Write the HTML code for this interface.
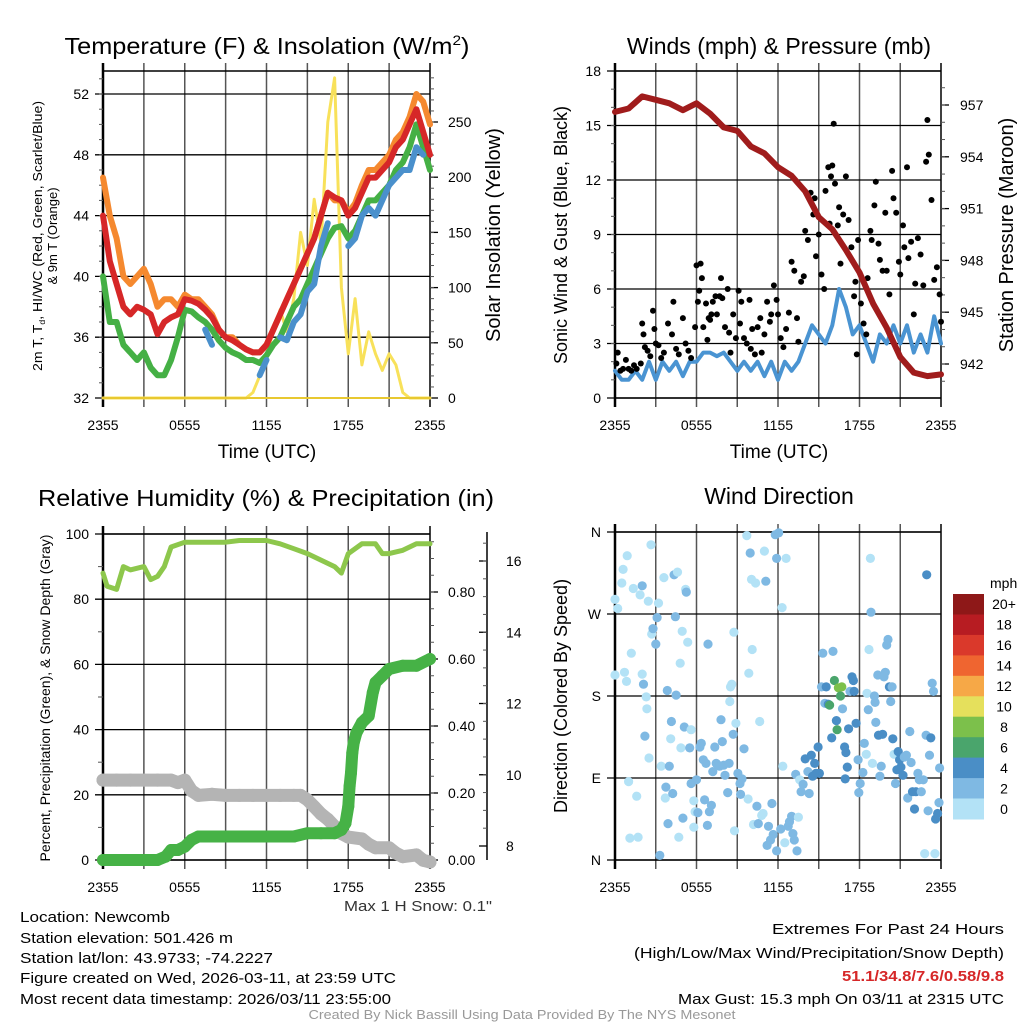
<!DOCTYPE html>
<html><head><meta charset="utf-8"><style>
html,body{margin:0;padding:0;background:#fff;}
svg{display:block;font-family:"Liberation Sans",sans-serif;}
</style></head><body>
<svg id="fig" width="1024" height="1024" viewBox="0 0 1024 1024" xmlns="http://www.w3.org/2000/svg">
<rect x="0" y="0" width="1024" height="1024" fill="#fff"/>
<text x="267" y="54" font-size="23" text-anchor="middle" textLength="405" lengthAdjust="spacingAndGlyphs">Temperature (F) &amp; Insolation (W/m<tspan font-size="14" dy="-9">2</tspan><tspan dy="9">)</tspan></text>
<text x="779" y="54" font-size="23" text-anchor="middle">Winds (mph) &amp; Pressure (mb)</text>
<text x="266" y="506" font-size="23" text-anchor="middle" textLength="456" lengthAdjust="spacingAndGlyphs">Relative Humidity (%) &amp; Precipitation (in)</text>
<text x="779" y="504" font-size="23" text-anchor="middle">Wind Direction</text>
<g transform="translate(42,236) rotate(-90)"><text x="0" y="0" font-size="13" text-anchor="middle" textLength="270" lengthAdjust="spacingAndGlyphs">2m T, T<tspan font-size="8" dy="3">d</tspan><tspan dy="-3">, HI/WC (Red, Green, Scarlet/Blue)</tspan></text><text x="0" y="15" font-size="13" text-anchor="middle">&amp; 9m T (Orange)</text></g>
<text transform="translate(500,235) rotate(-90)" font-size="20" text-anchor="middle">Solar Insolation (Yellow)</text>
<text transform="translate(567,235) rotate(-90)" font-size="18" text-anchor="middle">Sonic Wind &amp; Gust (Blue, Black)</text>
<text transform="translate(1013,235) rotate(-90)" font-size="20" text-anchor="middle">Station Pressure (Maroon)</text>
<text transform="translate(50,698) rotate(-90)" font-size="13.5" text-anchor="middle" textLength="327" lengthAdjust="spacingAndGlyphs">Percent, Precipitation (Green), &amp; Snow Depth (Gray)</text>
<text transform="translate(567,696) rotate(-90)" font-size="18" text-anchor="middle">Direction (Colored By Speed)</text>
<text x="267" y="458" font-size="19" text-anchor="middle">Time (UTC)</text>
<text x="779" y="458" font-size="19" text-anchor="middle">Time (UTC)</text>
<text x="492" y="911" font-size="15" text-anchor="end" fill="#333" textLength="148" lengthAdjust="spacingAndGlyphs">Max 1 H Snow: 0.1"</text>
<g font-size="15">
<text x="20" y="922" textLength="150" lengthAdjust="spacingAndGlyphs">Location: Newcomb</text>
<text x="20" y="943" textLength="213" lengthAdjust="spacingAndGlyphs">Station elevation: 501.426 m</text>
<text x="20" y="963" textLength="253" lengthAdjust="spacingAndGlyphs">Station lat/lon: 43.9733; -74.2227</text>
<text x="20" y="983" textLength="376" lengthAdjust="spacingAndGlyphs">Figure created on Wed, 2026-03-11, at 23:59 UTC</text>
<text x="20" y="1004" textLength="371" lengthAdjust="spacingAndGlyphs">Most recent data timestamp: 2026/03/11 23:55:00</text>
</g>
<g font-size="15" text-anchor="end">
<text x="1004" y="934" textLength="232" lengthAdjust="spacingAndGlyphs">Extremes For Past 24 Hours</text>
<text x="1004" y="958" textLength="370" lengthAdjust="spacingAndGlyphs">(High/Low/Max Wind/Precipitation/Snow Depth)</text>
<text x="1004" y="981" fill="#d62728" font-weight="bold" textLength="162" lengthAdjust="spacingAndGlyphs">51.1/34.8/7.6/0.58/9.8</text>
<text x="1004" y="1004" textLength="326" lengthAdjust="spacingAndGlyphs">Max Gust: 15.3 mph On 03/11 at 2315 UTC</text>
</g>
<text x="522" y="1019" font-size="13" fill="#999" text-anchor="middle" textLength="427" lengthAdjust="spacingAndGlyphs">Created By Nick Bassill Using Data Provided By The NYS Mesonet</text>
<g id="charts"></g>
</svg>
<script>
// ---------- data ----------
const timeLabels = ["2355","0555","1155","1755","2355"];
const t30 = [0,0.5,1,1.5,2,2.5,3,3.5,4,4.5,5,5.5,6,6.5,7,7.5,8,8.5,9,9.5,10,10.5,11,11.5,12,12.5,13,13.5,14,14.5,15,15.5,16,16.5,17,17.5,18,18.5,19,19.5,20,20.5,21,21.5,22,22.5,23,23.5,24];
const tempRed = [44,41,39.5,38,37.5,38,37.8,37.5,36.2,37,37.3,37.5,38.5,38.4,38.2,37.8,37.3,36.5,36,35.8,35.5,35.2,35,35,35.5,36.5,37.5,38.5,39.5,40.5,41.5,42.5,44,45.5,45.2,45,44,44.5,45.5,46.5,46.5,47,47.5,48.5,49,50,51,49.5,48];
const temp9m = [46.5,44,42.5,40,39.5,40,40.5,39.5,38,38.5,38.5,38,38.8,38.5,38.5,38,37.5,36.5,36,36,35.5,35.2,35,35,35.5,36.5,37.5,38.5,39.5,40.5,41.5,42.5,44,45.5,45,45,44.2,44.8,46,47,47,47.5,48,49,49.5,50.5,52,51.5,50];
const dewpoint = [40,37,37,35.5,35,34.5,35,34,33.5,33.5,34.5,36,37.8,37.7,37.3,37,36.5,35.8,35.3,35,34.8,34.5,34.5,34.3,34.8,35.5,36,37,38,38.5,39.5,40.5,41.5,42.5,43.2,43.3,42.5,43,44,45,45,45.5,46,47,47.5,48.5,50,48.5,47];
const windChill = [null,null,null,null,null,null,null,null,null,null,null,null,null,37.5,null,36.5,35.5,null,null,34,null,null,null,33.5,34.5,null,36,35.8,37,37.5,39,39.5,42,43.5,null,null,42,42.5,44,44.5,44,45,46,46.5,47,47,48.5,48,null];
const solar = [0,0,0,0,0,0,0,0,0,0,0,0,0,0,0,0,0,0,0,0,0,0,5,20,40,60,80,60,90,150,120,180,140,250,290,100,40,90,30,60,40,25,40,30,5,0,0,0,0];
const windSpeed = [1.5,1,1,1.5,1,2,1,2,1.5,2,1.2,2,2,2.5,2.5,2.3,2.5,2,1.5,2,1.5,2,1.2,2,1,2,1.5,2,3,4,3.5,3,4,6,5,3.5,4,3,2,3.5,3,4,3,4,2.5,3.5,2.5,4.5,3];
const t60 = [0,1,2,3,4,5,6,7,8,9,10,11,12,13,14,15,16,17,18,19,20,21,22,23,24];
const pressure = [956.6,956.8,957.5,957.3,957.1,956.7,957.1,956.5,955.7,955.5,954.6,954.2,953.4,952.9,952,950.5,949.8,948.6,947.3,945.5,944.1,942.4,941.5,941.3,941.4];
const gustTime = [0.1,0.2,0.4,0.6,0.8,1,1.2,1.4,1.6,1.9,2,2.1,2.2,2.4,2.6,2.8,2.9,3,3.2,3.4,3.6,3.9,4.2,4.3,4.5,4.7,5,5.2,5.4,5.6,5.9,6,6.1,6.3,6.2,6.4,6.5,6.7,6.8,6.9,7,7.1,7.2,7.4,7.5,7.7,7.8,7.9,8.1,8.3,8.4,8.5,8.7,8.9,9.1,9.2,9.3,9.5,9.7,9.9,10,10.1,10.3,10.5,10.7,10.8,11,11.2,11.4,11.5,11.7,11.9,12,12.2,12.4,12.6,12.8,13,13.2,13.4,13.5,13.7,13.9,14,14.2,14.4,14.6,14.7,14.8,15,15.2,15.4,15.5,15.7,15.8,15.9,16,16.1,16.2,16.4,16.5,16.6,16.8,17,17.2,17.4,17.6,17.7,17.8,17.9,18.1,18.3,18.5,18.6,18.8,18.9,19.1,19.2,19.4,19.5,19.7,19.9,20,20.2,20.4,20.5,20.7,20.9,21,21.2,21.3,21.5,21.6,21.8,22,22.1,22.3,22.5,22.7,22.9,23,23.1,23.3,23.5,23.7,23.9,24];
const gustSpeed = [1.9,2.5,1.5,1.6,2.1,1.6,1.5,1.8,1.6,1.9,4.1,3.5,2.8,2.6,2.3,4.8,3.8,3,2.9,2.2,2.5,4.1,3.5,5.3,2.7,2.4,4.4,3,2.6,2.2,3.9,7.3,5.3,7.4,5.9,6.6,3.9,5.2,3.2,4.4,4.3,4.6,5.3,5.6,4.6,5.6,6.6,5.5,3.9,6,3.6,2.5,4.6,3.3,5.9,4.1,5.3,3.3,3,5.4,2.7,3.8,2.4,3.9,4.4,2.5,3.5,5.3,4.2,4.6,6.2,5.4,4.6,3.3,2.8,3.8,4.7,7.5,7,4.4,3.1,6.4,6.7,9.2,8.7,11.3,10.1,11,7.8,9,6.8,6,11.4,12.7,9.6,12.2,12.8,15.1,11.8,9.5,10.5,7.4,10.1,12.2,9.8,8.3,5.6,6.4,2.4,8.7,5.2,4.1,3.5,6.6,9.2,8.7,10.6,11.9,8.5,7.6,7,10.2,7,5.7,12.5,11,10.2,7.5,6.8,9.5,8.3,12.7,7.7,8.6,4.6,6.3,8.8,7.9,6.2,13,15.3,13.4,10.9,6.5,7.2,5.7,4.2];
const rhTime = [0,0.3,1,1.5,2,3,3.5,4,4.5,5,6,7,8,9,10,11,12,13,14,15,16,17,17.5,18,19,20,20.5,21,22,23,24];
const rh = [88,84,83,90,89,90,86,87,90,96,97.5,97.5,97.5,97.5,98,98,98,97,95.5,94,92,90,88,94,97,97,94,94,95,97,97];
const precipTime = [0,1,2,3,4,4.6,5,5.5,6,6.5,7,8,9,10,11,12,13,14,15,16,17,17.5,17.8,18,18.1,18.2,18.3,18.4,18.6,19,19.5,19.8,20,20.5,21,22,23,24];
const precip = [0,0,0,0,0,0.01,0.03,0.03,0.04,0.06,0.07,0.07,0.07,0.07,0.07,0.07,0.07,0.07,0.08,0.08,0.08,0.09,0.11,0.16,0.22,0.26,0.32,0.35,0.38,0.41,0.43,0.5,0.53,0.55,0.57,0.58,0.58,0.6];
const snowTime = [0,1,2,3,4,5,5.5,6,6.5,7,8,9,10,11,12,13,14,14.5,15,15.5,16,16.5,17,17.5,18,19,19.5,20,21,21.5,22,23,23.5,24];
const snowDepth = [9.85,9.85,9.85,9.85,9.85,9.85,9.78,9.85,9.55,9.42,9.45,9.42,9.42,9.42,9.42,9.42,9.42,9.42,9.3,9.1,8.9,8.75,8.55,8.35,8.25,8.2,8.05,7.95,7.95,7.8,7.7,7.75,7.6,7.55];
const dirTime = [0,0,0.2,0.5,0.6,0.9,0.7,0.85,1,1.1,1.2,1.35,1.6,1.7,1.85,2,2,2.1,2.2,2.3,2.35,2.45,2.5,2.65,2.7,2.8,3,3.1,3.2,3.3,3.4,3.6,3.7,3.75,3.85,3.9,4,4.1,4.15,4.25,4.35,4.45,4.5,4.6,4.7,4.8,4.85,4.95,5,5.1,5.2,5.25,5.35,5.5,5.6,5.6,5.8,5.8,5.9,6,6.1,6.25,6.35,6.5,6.6,6.7,6.8,6.85,6.95,7.1,7.2,7.35,7.45,7.6,7.7,7.8,7.9,8,8.1,8.3,8.4,8.45,8.5,8.6,8.7,8.75,8.8,8.9,9.05,9.2,9.25,9.35,9.5,9.7,9.8,9.85,9.95,10.05,10.1,10.2,10.35,10.45,10.55,10.65,10.8,10.9,11,11.1,11.2,11.3,11.45,11.55,11.65,11.8,11.9,11.9,12.05,12.2,12.3,12.35,12.5,12.6,12.75,12.85,13,13.1,13.2,13.3,13.4,13.5,13.6,13.7,13.85,14,14.2,14.3,14.45,14.55,14.7,14.8,14.95,15.05,15.2,15.3,15.45,15.55,15.7,15.8,15.95,16.05,16.15,16.3,16.35,16.45,16.6,16.7,16.75,16.9,17,17.1,16.95,17.2,17.3,17.45,17.55,17.6,17.75,17.9,17.95,18.05,18.25,18.35,18.5,18.55,18.65,18.7,18.8,18.85,18.95,19.1,19.15,19.2,19.35,19.4,19.5,19.6,19.7,19.8,19.9,20,20.1,20.2,20.3,20.4,20.45,20.55,20.65,20.75,20.85,20.95,21.05,21.2,21.3,21.45,21.55,21.7,21.8,21.9,22.05,22.15,22.3,22.4,22.55,22.7,22.8,22.9,22.95,23.05,23.15,23.25,23.35,23.45,23.55,23.6,23.75,23.85,23.9];
const dirDeg = [203,286,276,304,319,334,206,196,86,24,227,298,70,25,291,204,301,193,136,179,166,284,112,346,248,254,237,266,282,5,103,310,68,80,186,40,103,133,152,73,313,267,181,316,25,216,123,251,46,146,297,294,239,123,143,84,65,36,53,88,52,124,128,110,66,106,38,237,53,60,97,124,106,104,103,154,130,104,93,74,106,174,190,193,138,250,32,150,95,84,72,89,122,356,67,205,337,308,231,39,304,59,40,152,49,51,339,306,16,37,22,62,28,357,331,10,359,34,277,103,19,331,37,42,48,29,22,94,10,47,88,75,83,111,97,73,115,92,106,95,124,95,190,227,172,190,171,170,134,229,197,153,143,189,180,190,166,124,118,102,89,144,185,201,197,185,150,110,74,84,96,128,116,183,165,231,331,272,106,180,173,151,203,137,92,103,138,201,206,236,242,190,174,190,133,116,84,99,119,110,102,93,113,115,68,141,107,75,56,75,95,88,75,88,7,137,313,54,115,134,194,185,7,45,51,63,101];
const dirSpeed = [1,1,1,1,1,1,1,1,1,1,1,1,1,1,1,1,3,3,3,1,1,1,1,1,1,3,3,3,1,3,1,1,1,3,3,3,3,1,3,3,3,3,3,1,1,1,1,1,3,3,1,3,1,3,1,3,1,1,1,3,3,3,3,3,3,3,3,3,3,3,3,3,3,3,3,3,3,3,3,3,3,1,1,1,3,1,1,1,3,3,3,3,3,1,1,1,3,1,1,1,1,3,3,1,1,1,1,3,3,3,3,3,3,3,3,3,3,3,1,1,1,1,3,3,3,3,3,3,3,1,1,3,3,5,3,3,5,5,5,5,5,5,3,3,3,5,5,7,5,3,7,5,7,9,7,9,3,5,5,5,5,5,3,5,5,5,5,3,3,3,3,3,1,1,3,1,1,3,1,3,3,3,3,5,3,3,5,3,3,3,3,5,3,3,5,1,3,5,5,5,5,5,3,3,3,3,3,5,5,5,3,3,3,3,1,3,5,3,3,5,3,3,1,5,5,3,3];
const speedBins = ["0","2","4","6","8","10","12","14","16","18","20+"];
const speedColors = ["#b3e2f6","#7fb9e3","#4a8ec6","#4aa56c","#7cc04b","#e5e05c","#f6a847","#ef6530","#da392b","#b71c22","#8e1818"];
const dotColors = ["#b3e2f6","#7fb9e3","#4a8ec6","#4aa56c","#7cc04b","#e5e05c","#f6a847","#ef6530","#da392b","#b71c22","#8e1818"];

// ---------- helpers ----------
const NS = "http://www.w3.org/2000/svg";
const root = document.getElementById('charts');
function mk(tag, attrs, parent){ const e=document.createElementNS(NS,tag); for(const k in attrs) e.setAttribute(k,attrs[k]); (parent||root).appendChild(e); return e; }
function panel(x0,x1,y0,y1){ return {x0,x1,y0,y1, xs:t=>x0+t/24*(x1-x0)}; }
function lin(d0,d1,p0,p1){ return v=>p0+(v-d0)/(d1-d0)*(p1-p0); }
function drawGrid(p, yTicks, ys, fmt, name){
  const g = mk('g',{});
  
  
  for(let i=0;i<=8;i++){
    const x=p.xs(i*3);
    const l=mk('line',{x1:x,x2:x,y1:p.y0-8,y2:p.y1+9,stroke:(i==0||i==8)?'#000':'#555','stroke-width':(i==0?2.5:1.5)},g);
    
    
  }
  timeLabels.forEach((s,i)=>{
    const tx=mk('text',{x:p.xs(i*6),y:p.y1+32,'font-size':14,'text-anchor':'middle'},g);
    
    
    tx.textContent=s;
  });
  yTicks.forEach(v=>{
    const y=ys(v);
    const l=mk('line',{x1:p.x0-8,x2:p.x1,y1:y,y2:y,stroke:'#000','stroke-width':1.3},g);
    
    
    const tx=mk('text',{x:p.x0-14,y:y+5,'font-size':14,'text-anchor':'end'},g);
    
    
    tx.textContent=fmt(v);
  });
  const top=mk('line',{x1:p.x0,x2:p.x1,y1:p.y0,y2:p.y0,stroke:'#000','stroke-width':1.5},g);
  
  
  const bot=mk('line',{x1:p.x0,x2:p.x1,y1:p.y1,y2:p.y1,stroke:'#000','stroke-width':1.5},g);
  
  
}
function minorTicks(x, vals, ys, dir, len){
  vals.forEach(v=>{ const y=ys(v);
    const l=mk('line',{x1:x,x2:x+dir*len,y1:y,y2:y,stroke:'#555','stroke-width':1});
    
    
  });
}
function rightAxis(x, ticks, ys, fmt, name, labX, anchor, dir, len){
  ticks.forEach(v=>{ const y=ys(v);
    const l=mk('line',{x1:x,x2:x+dir*len,y1:y,y2:y,stroke:'#000','stroke-width':1.3});
    
    
    const tx=mk('text',{x:labX,y:y+5,'font-size':14,'text-anchor':anchor});
    
    
    tx.textContent=fmt(v);
  });
}
function line(p, ts, vals, ys, color, w, name){
  let d='', pen=false;
  ts.forEach((t,i)=>{ const v=vals[i]; if(v===null||v===undefined){pen=false;return;}
    d+=(pen?'L':'M')+p.xs(t).toFixed(1)+','+ys(v).toFixed(1)+' '; pen=true; });
  const e=mk('path',{d:d,fill:'none',stroke:color,'stroke-width':w,'stroke-linejoin':'round','stroke-linecap':'round'});
  
  
}
function dots(p, ts, vals, ys, color, r, name){
  const g=mk('g',{fill:color});
  
  
  ts.forEach((t,i)=>{ const c=mk('circle',{cx:p.xs(t).toFixed(1),cy:ys(vals[i]).toFixed(1),r:r},g);
    
     });
}
function range(a,b,s){ const r=[]; for(let v=a;v<=b+1e-9;v+=s) r.push(Math.round(v*100)/100); return r; }

// ---------- panel 1: temperature ----------
const P1=panel(103,430,71,398);
const yT=lin(32,52,398,94), yS=lin(0,250,398,122);
drawGrid(P1,[32,36,40,44,48,52],yT,v=>v,'temperature');
minorTicks(P1.x0,range(33,53,1),yT,-1,4);
rightAxis(P1.x1,[0,50,100,150,200,250],yS,v=>v,'solar',448,'start',1,8);
minorTicks(P1.x1,range(10,290,10),yS,1,4);
line(P1,t30,solar,yS,'#f8e15a',3,'solar-insolation-line');
line(P1,t30,temp9m,yT,'#f5892f',6,'temp-9m-line');
line(P1,t30,dewpoint,yT,'#45b045',6,'dewpoint-line');
line(P1,t30,tempRed,yT,'#d62728',6,'temp-2m-line');
line(P1,t30,windChill,yT,'#4a90cc',6,'wind-chill-line');
line(P1,[0,24],[0,0],yS,'#e8c830',2,'solar-zero-line');

// ---------- panel 2: winds ----------
const P2=panel(615,941,71,398);
const yW=lin(0,18,398,71), yP=lin(942,957,364,105);
drawGrid(P2,[0,3,6,9,12,15,18],yW,v=>v,'wind');
minorTicks(P2.x0,range(1,17,1),yW,-1,4);
rightAxis(P2.x1,[942,945,948,951,954,957],yP,v=>v,'pressure',960,'start',1,8);
minorTicks(P2.x1,range(941,958,1),yP,1,4);
line(P2,t30,windSpeed,yW,'#4a94d2',4,'wind-speed-line');
dots(P2,gustTime,gustSpeed,yW,'#000',3,'gust-points');
line(P2,t60,pressure,yP,'#a01c1c',6,'pressure-line');

// ---------- panel 3: humidity ----------
const P3=panel(103,430,534,860);
const yR=lin(0,100,860,534), yPr=lin(0,0.8,860,592), ySn=lin(8,16,846,561);
drawGrid(P3,[0,20,40,60,80,100],yR,v=>v,'humidity');
minorTicks(P3.x0,range(10,90,20),yR,-1,5);
rightAxis(P3.x1,[0,0.2,0.4,0.6,0.8],yPr,v=>v.toFixed(2),'precip',448,'start',1,8);
minorTicks(P3.x1,range(0.05,0.95,0.05),yPr,1,4);
const snowAx=mk('line',{x1:487,x2:487,y1:532,y2:860,stroke:'#000','stroke-width':1.5});


rightAxis(487,[8,10,12,14,16],ySn,v=>v,'snow',506,'start',-1,8);
minorTicks(487,range(8.5,16.5,0.5),ySn,-1,4);
line(P3,rhTime,rh,yR,'#8dc74c',5,'rh-line');
dots(P3,snowTime,snowDepth,ySn,'#b4b4b4',6.5,'snow-depth-points');
line(P3,snowTime,snowDepth,ySn,'#b4b4b4',13,'snow-depth-band');
dots(P3,precipTime,precip,yPr,'#46b246',6,'precip-points');
line(P3,precipTime,precip,yPr,'#46b246',12,'precip-band');

// ---------- panel 4: direction ----------
const P4=panel(615,941,532,860);
const yD=lin(0,360,860,532);
const dirLabels=["N","E","S","W","N"];
drawGrid(P4,[0,90,180,270,360],yD,v=>dirLabels[v/90],'direction');
const dg=mk('g',{});


dirTime.forEach((t,i)=>{
  const bin=Math.min(10,Math.floor(dirSpeed[i]/2));
  const c=mk('circle',{cx:P4.xs(t).toFixed(1),cy:yD(dirDeg[i]).toFixed(1),r:4.6,fill:dotColors[bin]},dg);
  
  
});
// colorbar
const cb=mk('g',{});


const cbTop=594, cbH=225/11;
const mph=mk('text',{x:990,y:588,'font-size':14},cb);


mph.textContent='mph';
speedBins.forEach((s,i)=>{
  const k=10-i; const y=cbTop+i*cbH;
  const r=mk('rect',{x:953,y:y.toFixed(1),width:31,height:(cbH+0.5).toFixed(1),fill:speedColors[k]},cb);
  
  
  const tx=mk('text',{x:1004,y:(y+cbH/2+5).toFixed(1),'font-size':14,'text-anchor':'middle'},cb);
  
  
  tx.textContent=speedBins[k];
});
</script>
</body></html>
